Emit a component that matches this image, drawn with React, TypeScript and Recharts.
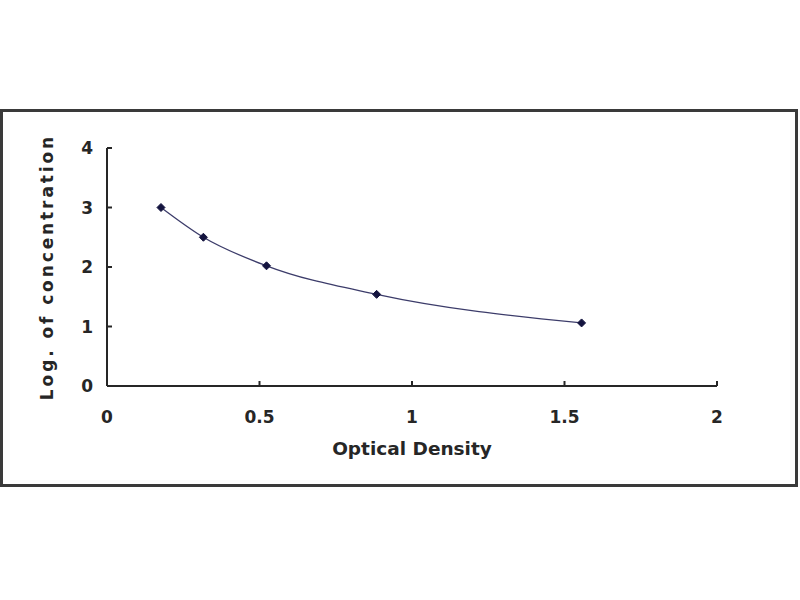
import { Label, Line, LineChart, XAxis, YAxis } from "recharts";

// Standard curve: optical density vs log of concentration
const opticalDensity = [0.177, 0.316, 0.523, 0.884, 1.556];
const logConcentration = [3.0, 2.5, 2.02, 1.54, 1.06];

const xTicks = [0, 0.5, 1, 1.5, 2];
const yTicks = [0, 1, 2, 3, 4];

const data = opticalDensity.map((od, i) => ({ od, logc: logConcentration[i] }));

const axisColor = "#262626";
const fontFamily = "'DejaVu Sans', Verdana, sans-serif";

const Diamond = (props: any) => {
  const { cx, cy, index } = props;
  if (cx == null || cy == null) return null;
  const r = 4;
  return (
    <path
      key={`d-${index}`}
      d={`M${cx},${cy - r} L${cx + r},${cy} L${cx},${cy + r} L${cx - r},${cy} Z`}
      fill="#14143f"
      stroke="#14143f"
    />
  );
};

const YTitle = (props: any) => {
  const { viewBox } = props;
  const x = viewBox.x;
  const y = viewBox.y + viewBox.height / 2;
  return (
    <text
      x={x}
      y={y}
      transform={`rotate(-90, ${x}, ${y})`}
      textAnchor="middle"
      dominantBaseline="central"
      fontFamily={fontFamily}
      fontWeight="bold"
      fontSize={17}
      letterSpacing={2.9}
      fill={axisColor}
    >
      Log. of concentration
    </text>
  );
};

export default function App() {
  return (
    <div
      style={{
        position: "absolute",
        left: 0,
        top: 0,
        width: 800,
        height: 600,
        background: "#fff",
      }}
    >
      <div
        style={{
          position: "absolute",
          left: 0,
          top: 109,
          width: 792,
          height: 372,
          border: "3px solid #3a3a3a",
        }}
      />
      <div style={{ position: "absolute", left: 0, top: 0 }}>
        <LineChart
          width={800}
          height={600}
          data={data}
          margin={{ top: 148, right: 83, bottom: 154, left: 47 }}
        >
          <XAxis
            type="number"
            dataKey="od"
            domain={[0, 2]}
            ticks={xTicks}
            height={60}
            stroke={axisColor}
            strokeWidth={2}
            tickSize={-5}
            tickMargin={30}
            tick={{
              fill: axisColor,
              fontSize: 17,
              fontWeight: "bold",
              fontFamily,
            }}
          >
            <Label
              value="Optical Density"
              position="bottom"
              offset={-4}
              fill={axisColor}
              fontSize={18.5}
              fontWeight="bold"
              fontFamily={fontFamily}
            />
          </XAxis>
          <YAxis
            type="number"
            dataKey="logc"
            domain={[0, 4]}
            ticks={yTicks}
            width={60}
            stroke={axisColor}
            strokeWidth={2}
            tickSize={-5}
            tickMargin={19}
            tick={{
              fill: axisColor,
              fontSize: 17,
              fontWeight: "bold",
              fontFamily,
            }}
          >
            <Label content={<YTitle />} />
          </YAxis>
          <Line
            type="monotone"
            dataKey="logc"
            stroke="#3c3c6a"
            strokeWidth={1.3}
            dot={<Diamond />}
            activeDot={false}
            isAnimationActive={false}
          />
        </LineChart>
      </div>
    </div>
  );
}
